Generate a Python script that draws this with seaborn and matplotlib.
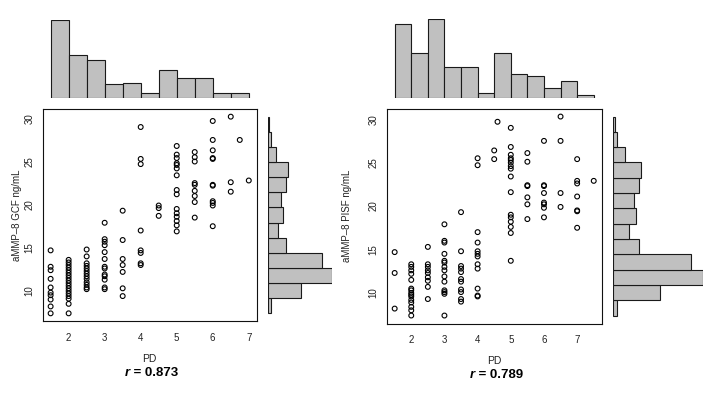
import numpy as np
import pandas as pd
import matplotlib
matplotlib.use("Agg")
import matplotlib.pyplot as plt
import seaborn as sns

# GCF panel: scatter points (PD vs aMMP-8 GCF)
gcf_pd = ([1.5] * 10 + [2] * 18 + [2.5] * 13 + [3] * 13 + [3.5] * 7 + [4] * 8
          + [4.5] * 3 + [5] * 15 + [5.5] * 9 + [6] * 11 + [6.5] * 3 + [6.75] + [7])
gcf_mmp = [14.7, 12.8, 12.4, 11.4, 10.4, 9.8, 9.5, 9.0, 8.2, 7.4,
           13.6, 13.3, 13.0, 12.7, 12.4, 12.1, 11.8, 11.5, 11.2, 10.9, 10.6, 10.3, 10.0, 9.7, 9.4, 9.1, 8.5, 7.4,
           14.8, 14.0, 13.2, 12.9, 12.6, 12.3, 12.0, 11.7, 11.4, 11.0, 10.7, 10.4, 10.2,
           17.9, 16.0, 15.7, 15.3, 14.5, 13.7, 12.8, 12.6, 11.9, 11.7, 11.3, 10.4, 10.2,
           19.3, 15.9, 13.7, 13.0, 12.2, 10.3, 9.4,
           29.0, 25.3, 24.7, 17.0, 14.7, 14.4, 13.2, 13.0,
           19.9, 19.6, 18.7,
           26.8, 25.8, 25.4, 24.8, 24.6, 24.2, 23.4, 21.7, 21.2, 19.5, 19.0, 18.6, 18.1, 17.6, 16.9,
           26.1, 25.5, 25.0, 22.5, 22.3, 21.6, 21.0, 20.3, 18.5,
           29.7, 27.5, 26.3, 25.4, 25.3, 22.3, 22.2, 20.4, 20.2, 19.9, 17.5,
           30.2, 22.6, 21.5,
           27.5,
           22.8]

# PISF panel
pisf_pd = ([1.5] * 3 + [2] * 15 + [2.5] * 9 + [3] * 14 + [3.5] * 11 + [4] * 12
           + [4.5] * 2 + [4.6] + [5] * 16 + [5.5] * 7 + [6] * 8 + [6.5] * 4 + [7] * 7 + [7.5])
pisf_mmp = [14.7, 12.3, 8.2,
            13.3, 13.0, 12.6, 12.2, 11.5, 10.5, 10.3, 10.0, 9.8, 9.6, 9.2, 8.9, 8.4, 8.0, 7.4,
            15.3, 13.3, 13.0, 12.6, 12.3, 11.8, 11.4, 10.7, 9.3,
            17.9, 16.0, 15.8, 14.5, 13.7, 13.5, 13.0, 12.6, 11.9, 11.3, 10.3, 10.1, 9.9, 7.4,
            19.3, 14.8, 13.1, 12.8, 12.4, 11.6, 11.3, 10.4, 10.1, 9.3, 9.0,
            25.5, 24.7, 17.0, 15.8, 14.8, 14.5, 14.2, 13.3, 12.8, 10.5, 9.7, 9.6,
            26.4, 25.4,
            29.7,
            29.0, 26.8, 25.9, 25.5, 25.3, 25.0, 24.6, 24.3, 23.4, 21.6, 19.0, 18.7, 18.2, 17.6, 16.9, 13.7,
            26.1, 25.1, 22.4, 22.3, 21.0, 20.2, 18.5,
            27.5, 22.4, 22.3, 21.5, 20.4, 20.2, 19.8, 18.7,
            30.3, 27.5, 21.5, 19.9,
            25.4, 22.9, 22.6, 21.1, 19.5, 19.4, 17.5,
            22.9]

# marginal histogram counts (full sample, many points overlap)
gcf_pd_counts = [47, 26, 23, 8, 9, 3, 17, 12, 12, 3, 3]
pisf_pd_counts = [31, 19, 33, 13, 13, 2, 19, 10, 9, 4, 7, 1]
gcf_mmp_counts = [2, 20, 39, 33, 11, 6, 9, 8, 11, 12, 5, 2, 1]   # bottom -> top
pisf_mmp_counts = [2, 20, 38, 33, 11, 7, 10, 9, 11, 12, 5, 2, 1]

x_ticks = [2, 3, 4, 5, 6, 7]
y_ticks = [10, 15, 20, 25, 30]

W, H = 706, 399
sns.set_style("white")
plt.rcParams['font.family'] = ['Liberation Sans', 'DejaVu Sans']

fig = plt.figure(figsize=(W / 100, H / 100), dpi=100)
fig.patch.set_facecolor('white')

BAR = '#C0C0C0'
INK = '#222222'


def px_axes(left, top, right, bottom):
    return fig.add_axes([left / W, 1 - bottom / H, (right - left) / W, (bottom - top) / H])


def padded(lo, hi):
    d = (hi - lo) * 0.04
    return lo - d, hi + d


def panel(pd_vals, mmp_vals, pd_counts, mmp_counts, box, unit, ylab, ylab_x, lab_y, r_val):
    left, top, right, bottom = box
    df = pd.DataFrame({'PD': pd_vals, 'MMP': mmp_vals})
    xlim = padded(min(pd_vals), max(pd_vals))
    ylim = padded(min(mmp_vals), max(mmp_vals))

    # scatter
    ax = px_axes(left, top, right, bottom)
    sns.scatterplot(data=df, x='PD', y='MMP', ax=ax, marker='o', s=12,
                    facecolors='none', edgecolor='black', linewidth=0.8)
    ax.set_xlim(xlim)
    ax.set_ylim(ylim)
    ax.set_xticks(x_ticks)
    ax.set_yticks(y_ticks)
    ax.set_xlabel('')
    ax.set_ylabel('')
    for s in ax.spines.values():
        s.set_visible(True)
        s.set_color('#111111')
        s.set_linewidth(0.8)
    ax.tick_params(axis='both', direction='out', length=3.5, width=0.7,
                   colors='#111111', labelsize=7, labelcolor=INK)
    ax.tick_params(axis='x', pad=5)
    ax.tick_params(axis='y', pad=2.5, labelrotation=90)
    for lbl in ax.get_yticklabels():
        lbl.set_va('center')

    # top marginal histogram of PD
    x_edges = np.arange(min(pd_vals), max(pd_vals) + 0.25, 0.5)
    top_df = pd.DataFrame({'mid': (x_edges[:-1] + x_edges[1:]) / 2, 'n': pd_counts})
    top_h = max(pd_counts) * unit
    axt = px_axes(left, 97.7 - top_h, right, 97.7)
    sns.histplot(data=top_df, x='mid', weights='n', bins=list(x_edges), ax=axt,
                 color=BAR, edgecolor='#1a1a1a', linewidth=0.8, alpha=1)
    axt.set_xlim(xlim)
    axt.set_ylim(0, max(pd_counts))
    axt.axis('off')

    # side marginal histogram of aMMP-8
    y_edges = np.linspace(min(mmp_vals), max(mmp_vals), len(mmp_counts) + 1)
    side_df = pd.DataFrame({'mid': (y_edges[:-1] + y_edges[1:]) / 2, 'n': mmp_counts})
    side_w = max(mmp_counts) * unit
    side_left = right + 11
    axs = px_axes(side_left, top, side_left + side_w, bottom)
    sns.histplot(data=side_df, y='mid', weights='n', bins=list(y_edges), ax=axs,
                 color=BAR, edgecolor='#1a1a1a', linewidth=0.8, alpha=1)
    axs.set_ylim(ylim)
    axs.set_xlim(0, max(mmp_counts))
    axs.axis('off')

    # labels
    cx = (left + right) / 2 / W
    fig.text(ylab_x / W, 1 - (top + bottom) / 2 / H, ylab, rotation=90,
             ha='center', va='center', fontsize=7, color=INK)
    fig.text(cx, 1 - lab_y / H, 'PD', ha='center', va='center', fontsize=7.5, color=INK)
    split = cx - 19.5 / W
    fig.text(split, 1 - (lab_y + 13.5) / H, 'r', ha='right', va='center',
             fontsize=9.5, fontweight='bold', fontstyle='italic', color='black')
    fig.text(split, 1 - (lab_y + 13.5) / H, ' = ' + r_val, ha='left', va='center',
             fontsize=9.5, fontweight='bold', color='black')


panel(gcf_pd, gcf_mmp, gcf_pd_counts, gcf_mmp_counts,
      (42.7, 108.8, 256.7, 321.2), 1.655, 'aMMP\u20138 GCF ng/mL', 17, 359, '0.873')
panel(pisf_pd, pisf_mmp, pisf_pd_counts, pisf_mmp_counts,
      (386.7, 108.6, 601.7, 323.5), 2.37, 'aMMP\u20138 PISF ng/mL', 347, 361, '0.789')

fig.savefig('out.png', dpi=100, facecolor='white')
